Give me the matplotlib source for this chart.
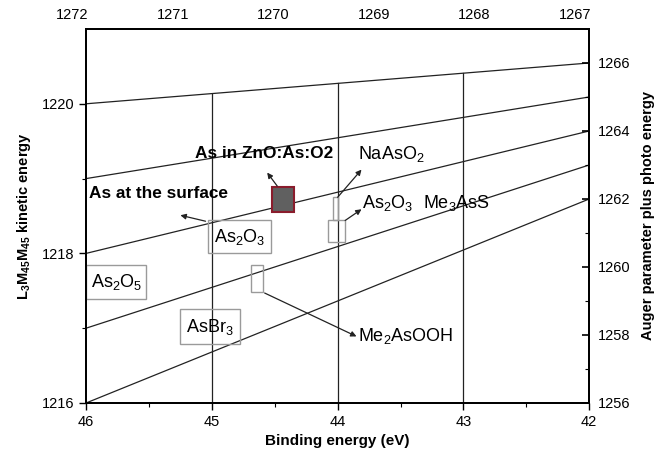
import matplotlib
matplotlib.use("Agg")
import matplotlib.pyplot as plt
from matplotlib.patches import Rectangle
import matplotlib.transforms as mtransforms
import numpy as np

plt.rcParams['font.family'] = ['Liberation Sans', 'DejaVu Sans']
plt.rcParams['mathtext.fontset'] = 'custom'
plt.rcParams['mathtext.rm'] = 'Liberation Sans'
plt.rcParams['mathtext.it'] = 'Liberation Sans:italic'
plt.rcParams['mathtext.bf'] = 'Liberation Sans:bold'

# axis ranges
be_range = [46, 42]            # binding energy (bottom)
ke_range = [1216, 1221]        # kinetic energy (left)
ap_range = [1256, 1267]        # Auger parameter (right)
top_range = [1272, 1267]       # top axis

# Auger parameter lines: KE at 46 eV (left) and Auger parameter at 42 eV (right)
line_ke_left = [1220, 1219, 1218, 1217, 1216]
line_ap_right = [1266, 1265, 1264, 1263, 1262]

# vertical guide lines
be_vert = [45, 44, 43]

# boxes: (x0, x1, y0, y1) in BE / KE, and label
box_x0 = [46.0, 45.03, 45.25, 44.69, 44.08, 44.04]
box_x1 = [45.52, 44.53, 44.78, 44.59, 43.94, 44.0]
box_y0 = [1217.39, 1218.0, 1216.79, 1217.49, 1218.15, 1218.44]
box_y1 = [1217.84, 1218.45, 1217.25, 1217.84, 1218.44, 1218.75]
box_text = ['As$_2$O$_5$', 'As$_2$O$_3$', 'AsBr$_3$', '', '', '']

# sample point (As in ZnO:As:O2)
sample_x = [44.52, 44.35]
sample_y = [1218.55, 1218.89]

# labels with arrows: text, text pos, arrow tail, arrow head
lab_text = ['As in ZnO:As:O2', 'As at the surface', 'NaAsO$_2$', 'As$_2$O$_3$', 'Me$_3$AsS', 'Me$_2$AsOOH']
lab_x = [45.13, 45.98, 43.84, 43.81, 43.32, 43.84]
lab_y = [1219.33, 1218.80, 1219.33, 1218.67, 1218.67, 1216.89]
lab_bold = [True, True, False, False, False, False]

arr_tail = [(44.48, 1218.90), (45.05, 1218.43), (44.0, 1218.75), (43.94, 1218.44), (44.58, 1217.47)]
arr_head = [(44.56, 1219.08), (45.25, 1218.51), (43.81, 1219.12), (43.81, 1218.59), (43.85, 1216.89)]

fig = plt.figure(figsize=(6.62, 4.55), dpi=100)
ax = fig.add_axes([0.130, 0.1143, 0.760, 0.822])
ax.set_xlim(be_range)
ax.set_ylim(ke_range)

def ap_to_ke(ap):
    return ke_range[0] + (np.array(ap) - ap_range[0]) * (ke_range[1] - ke_range[0]) / (ap_range[1] - ap_range[0])

line_ke_right = ap_to_ke(line_ap_right)
for a, b in zip(line_ke_left, line_ke_right):
    ax.plot(be_range, [a, b], color='#222222', lw=0.9)

# vertical lines from top Auger line down to bottom
for xv in be_vert:
    ytop = np.interp(xv, [42, 46], [line_ke_right[0], line_ke_left[0]])
    ax.plot([xv, xv], [ke_range[0], ytop], color='#222222', lw=0.9)

for x0, x1, y0, y1, t in zip(box_x0, box_x1, box_y0, box_y1, box_text):
    ax.add_patch(Rectangle((x0, y0), x1 - x0, y1 - y0, fill=False,
                           edgecolor='#9a9a9a', lw=1.0, zorder=3))
    if t:
        ax.text((x0 + x1) / 2, (y0 + y1) / 2, t, ha='center', va='center', fontsize=13, zorder=4)

ax.add_patch(Rectangle((sample_x[0], sample_y[0]), sample_x[1] - sample_x[0], sample_y[1] - sample_y[0],
                       facecolor='#606060', edgecolor='#8a1c2c', lw=1.5, zorder=5))

for t, x, y, b in zip(lab_text, lab_x, lab_y, lab_bold):
    ax.text(x, y, t, ha='left', va='center', fontsize=12.4 if b else 13,
            fontweight='bold' if b else 'normal', zorder=6)

for tail, head in zip(arr_tail, arr_head):
    ax.annotate('', xy=head, xytext=tail,
                arrowprops=dict(arrowstyle='-|>', color='#222222', lw=0.9, mutation_scale=8,
                                shrinkA=0, shrinkB=0), zorder=6)

ax.set_xticks([46, 45, 44, 43, 42])
ax.set_xticks(np.arange(42, 46.01, 0.5), minor=True)
ax.set_yticks([1216, 1218, 1220])
ax.set_yticks([1217, 1219], minor=True)
ax.tick_params(direction='out', length=5, width=1, labelsize=10.5, top=False, right=False)
ax.tick_params(which='minor', direction='out', length=3, width=0.8)
ax.set_xlabel('Binding energy (eV)', fontsize=11, fontweight='bold', labelpad=4)
ax.set_ylabel(r'L$_\mathbf{3}$M$_\mathbf{45}$M$_\mathbf{45}$ kinetic energy', fontsize=10.5,
              fontweight='bold', labelpad=6)

ax2 = ax.twinx()
ax2.set_ylim(ap_range)
ax2.set_yticks(np.arange(1256, 1267, 2))
ax2.set_yticks(np.arange(1257, 1267, 2), minor=True)
ax2.tick_params(direction='in', length=5, width=1.2, labelsize=10.5, pad=6)
ax2.tick_params(which='minor', direction='in', length=3, width=0.8)
ax2.set_ylabel('Auger parameter plus photo energy', fontsize=10.5, fontweight='bold', labelpad=8)

ax3 = ax.twiny()
ax3.set_xlim(top_range)
ax3.set_xticks(np.arange(1272, 1266, -1))
ax3.tick_params(length=0, labelsize=10.5, pad=5)
offset = mtransforms.ScaledTranslation(-14 / 100, 0, fig.dpi_scale_trans)
for lab in ax3.get_xticklabels():
    lab.set_transform(lab.get_transform() + offset)

for a in (ax, ax2, ax3):
    for s in a.spines.values():
        s.set_linewidth(1.2)

fig.savefig('out.png', dpi=100)
